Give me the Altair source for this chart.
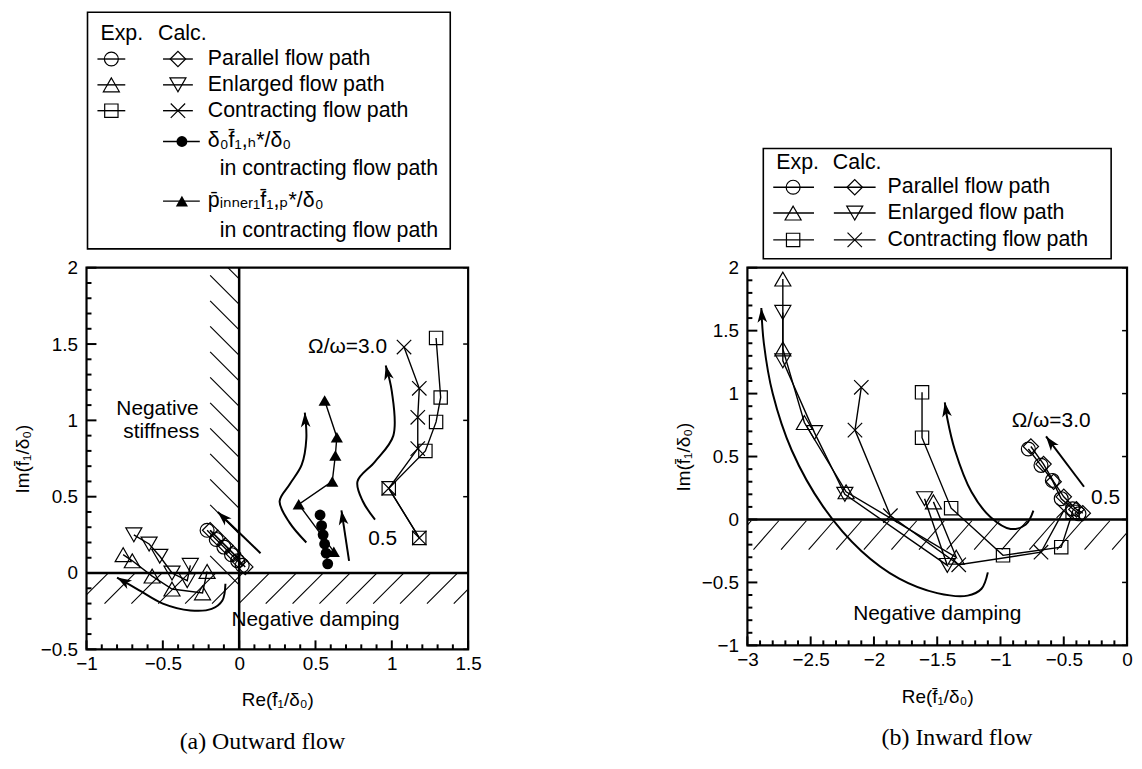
import math
import altair as alt
import pandas as pd

FONT = "Liberation Sans, DejaVu Sans"
SERIF = "Liberation Serif, DejaVu Serif"

ratio = [0.5, 1.0, 1.5, 2.0, 2.5, 3.0]

# ---------------- (a) Outward flow ----------------
a_par_exp_x = [0.02, -0.01, -0.05, -0.10, -0.15, -0.21]
a_par_exp_y = [0.05, 0.08, 0.12, 0.17, 0.22, 0.28]
a_par_calc_x = [0.04, 0.00, -0.04, -0.09, -0.14, -0.19]
a_par_calc_y = [0.04, 0.08, 0.13, 0.18, 0.23, 0.28]
a_enl_exp_x = [-0.21, -0.24, -0.44, -0.57, -0.70, -0.76]
a_enl_exp_y = [0.01, -0.13, -0.105, -0.02, 0.08, 0.12]
a_enl_calc_x = [-0.32, -0.34, -0.44, -0.52, -0.59, -0.69]
a_enl_calc_y = [0.05, -0.05, 0.00, 0.11, 0.19, 0.25]
a_con_exp_x = [1.18, 0.98, 1.22, 1.29, 1.32, 1.29]
a_con_exp_y = [0.23, 0.555, 0.80, 0.99, 1.15, 1.54]
a_con_calc_x = [1.18, 0.98, 1.17, 1.17, 1.18, 1.08]
a_con_calc_y = [0.23, 0.555, 0.815, 1.02, 1.21, 1.48]
a_h_x = [0.58, 0.57, 0.56, 0.55, 0.54, 0.53]
a_h_y = [0.06, 0.13, 0.19, 0.25, 0.31, 0.38]
a_p_x = [0.62, 0.39, 0.61, 0.63, 0.64, 0.56]
a_p_y = [0.14, 0.45, 0.60, 0.77, 0.89, 1.13]

# trend arrows (a), last point is the arrow tip
a_arrows = [
    [(-0.09, -0.07), (-0.11, -0.18), (-0.18, -0.235), (-0.32, -0.245), (-0.50, -0.20), (-0.66, -0.11), (-0.80, -0.03)],
    [(0.14, 0.13), (-0.14, 0.40)],
    [(0.44, 0.20), (0.33, 0.33), (0.265, 0.47), (0.33, 0.58), (0.41, 0.71), (0.44, 0.88), (0.43, 1.05)],
    [(0.72, 0.08), (0.67, 0.41)],
    [(0.89, 0.35), (0.81, 0.47), (0.775, 0.60), (0.89, 0.73), (1.01, 0.90), (1.00, 1.19), (0.96, 1.36)],
]

# ---------------- (b) Inward flow ----------------
b_par_exp_x = [-0.38, -0.43, -0.52, -0.59, -0.68, -0.78]
b_par_exp_y = [0.045, 0.085, 0.165, 0.31, 0.43, 0.56]
b_par_calc_x = [-0.35, -0.40, -0.50, -0.58, -0.66, -0.76]
b_par_calc_y = [0.05, 0.08, 0.18, 0.30, 0.44, 0.58]
b_enl_exp_x = [-1.53, -1.35, -2.22, -2.55, -2.72, -2.72]
b_enl_exp_y = [0.14, -0.30, 0.22, 0.77, 1.355, 1.91]
b_enl_calc_x = [-1.60, -1.42, -2.23, -2.47, -2.72, -2.72]
b_enl_calc_y = [0.165, -0.365, 0.20, 0.69, 1.26, 1.645]
b_con_exp_x = [-0.43, -0.52, -0.98, -1.39, -1.62, -1.62]
b_con_exp_y = [0.06, -0.22, -0.285, 0.09, 0.65, 1.01]
b_con_calc_x = [-0.50, -0.68, -1.33, -1.87, -2.15, -2.10]
b_con_calc_y = [0.07, -0.26, -0.36, 0.03, 0.71, 1.05]

b_arrows = [
    [(-1.10, -0.42), (-1.15, -0.55), (-1.26, -0.605), (-1.50, -0.585), (-1.80, -0.47), (-2.10, -0.25),
     (-2.40, 0.10), (-2.65, 0.55), (-2.80, 1.00), (-2.87, 1.40), (-2.89, 1.68)],
    [(-0.74, 0.07), (-0.80, -0.04), (-0.92, -0.075), (-1.08, 0.02), (-1.23, 0.22), (-1.36, 0.55),
     (-1.42, 0.80), (-1.44, 0.93)],
    [(-0.34, 0.26), (-0.64, 0.66)],
]

XPATH = "M-1,-1L1,1M-1,1L1,-1"
ARROW = "M0,0L0.5,1.5L0,1.1L-0.5,1.5Z"
SHAPES = {
    "par_exp": ("circle", 196), "par_calc": ("diamond", 240),
    "enl_exp": ("triangle-up", 260), "enl_calc": ("triangle-down", 260),
    "con_exp": ("square", 180), "con_calc": (XPATH, 210),
}
FILLED = {"h": ("circle", 120), "p": ("triangle-up", 150)}

SUB = "\u2081"
TITLE_RE = "Re(f\u0304" + SUB + "/\u03b4\u2080)"
TITLE_IM = "Im(f\u0304" + SUB + "/\u03b4\u2080)"

LEG_FS = 21.5
ANN_FS = 21


def build_panel(series, arrows, xdom, ydom, W, H, xmaj, ymaj, hatches, texts, legend, caption, cap_dx, zero_x):
    sx = W / (xdom[1] - xdom[0])
    sy = H / (ydom[1] - ydom[0])

    def px2d(lx, ly):
        return xdom[0] + lx / sx, ydom[1] - ly / sy

    xaxis = alt.Axis(values=xmaj, format="~g", ticks=False, domain=False, grid=False, labelFlush=False,
                     labelOverlap=False, labelFont=FONT, labelFontSize=19, labelPadding=5, labelColor="black",
                     title=TITLE_RE, titleFont=FONT, titleFontSize=19, titleFontWeight="normal",
                     titleColor="black", titlePadding=18)
    yaxis = alt.Axis(values=ymaj, format="~g", ticks=False, domain=False, grid=False, labelFlush=False,
                     labelOverlap=False, labelFont=FONT, labelFontSize=19, labelPadding=9, labelColor="black",
                     title=TITLE_IM, titleFont=FONT, titleFontSize=19, titleFontWeight="normal",
                     titleColor="black", titlePadding=8)
    xs = alt.Scale(domain=xdom, nice=False, zero=False)
    ys = alt.Scale(domain=ydom, nice=False, zero=False)

    def X(f):
        return alt.X(f, type="quantitative", scale=xs, axis=xaxis)

    def Y(f):
        return alt.Y(f, type="quantitative", scale=ys, axis=yaxis)

    layers = []

    # hatching
    hdf = pd.DataFrame(hatches, columns=["x", "y", "x2", "y2"])
    layers.append(alt.Chart(hdf).mark_rule(clip=True, color="black", strokeWidth=1.1).encode(
        x=X("x"), y=Y("y"), x2="x2", y2="y2"))

    # zero lines
    layers.append(alt.Chart(pd.DataFrame({"v": [0]})).mark_rule(color="black", strokeWidth=2.5).encode(y=Y("v")))
    if zero_x:
        layers.append(alt.Chart(pd.DataFrame({"v": [0]})).mark_rule(color="black", strokeWidth=2.5).encode(x=X("v")))

    # ticks (inward)
    xminor = [round(v * 0.1, 1) for v in range(int(round(xdom[0] * 10)), int(round(xdom[1] * 10)) + 1)]
    yminor = [round(v * 0.1, 1) for v in range(int(round(ydom[0] * 10)), int(round(ydom[1] * 10)) + 1)]
    xminor = [v for v in xminor if v not in xmaj]
    yminor = [v for v in yminor if v not in ymaj]
    layers.append(alt.Chart(pd.DataFrame({"v": xmaj})).mark_rule(color="black", strokeWidth=2).encode(
        x=X("v"), y=alt.value(H), y2=alt.value(H - 9)))
    layers.append(alt.Chart(pd.DataFrame({"v": xminor})).mark_rule(color="black", strokeWidth=2).encode(
        x=X("v"), y=alt.value(H), y2=alt.value(H - 5)))
    layers.append(alt.Chart(pd.DataFrame({"v": ymaj})).mark_rule(color="black", strokeWidth=2).encode(
        y=Y("v"), x=alt.value(0), x2=alt.value(10)))
    layers.append(alt.Chart(pd.DataFrame({"v": yminor})).mark_rule(color="black", strokeWidth=2).encode(
        y=Y("v"), x=alt.value(0), x2=alt.value(5)))
    layers.append(alt.Chart(pd.DataFrame({"v": ymaj})).mark_rule(color="black", strokeWidth=1.5).encode(
        y=Y("v"), x=alt.value(W), x2=alt.value(W - 5)))

    # series lines
    rows = []
    for key, (xs_, ys_) in series.items():
        for i, (a, b) in enumerate(zip(xs_, ys_)):
            rows.append({"x": a, "y": b, "s": key, "i": i, "r": ratio[i]})
    sdf = pd.DataFrame(rows)
    layers.append(alt.Chart(sdf).mark_line(color="black", strokeWidth=1.4).encode(
        x=X("x"), y=Y("y"), detail="s:N", order="i:Q"))

    # arrows (curves + heads)
    crow, hrow = [], []
    for c, pts in enumerate(arrows):
        for i, (a, b) in enumerate(pts):
            crow.append({"x": a, "y": b, "c": c, "i": i})
        (xa, ya), (xb, yb) = pts[-2], pts[-1]
        ang = math.degrees(math.atan2((xb - xa) * sx, (yb - ya) * sy)) % 360
        hrow.append({"x": xb, "y": yb, "ang": ang})
    layers.append(alt.Chart(pd.DataFrame(crow)).mark_line(
        color="black", strokeWidth=2, interpolate="catmull-rom").encode(
        x=X("x"), y=Y("y"), detail="c:N", order="i:Q"))
    layers.append(alt.Chart(pd.DataFrame(hrow)).mark_point(
        shape=ARROW, filled=True, color="black", size=380, opacity=1, strokeWidth=0).encode(
        x=X("x"), y=Y("y"), angle=alt.Angle("ang:Q", scale=None)))

    # legend box and entries (positions in px relative to plot origin)
    bx0, bx1, by0, by1 = legend["box"]
    (x0, y0), (x1, y1) = px2d(bx0, by0), px2d(bx1, by1)
    layers.append(alt.Chart(pd.DataFrame([{"x": x0, "x2": x1, "y": y0, "y2": y1}])).mark_rect(
        fill="white", stroke="black", strokeWidth=1.6).encode(x=X("x"), x2="x2", y=Y("y"), y2="y2"))
    seg = []
    for (la, lb, ly) in legend["lines"]:
        (p0, q0), (p1, q1) = px2d(la, ly), px2d(lb, ly)
        seg.append({"x": p0, "x2": p1, "y": q0, "y2": q1})
    layers.append(alt.Chart(pd.DataFrame(seg)).mark_rule(color="black", strokeWidth=1.4).encode(
        x=X("x"), x2="x2", y=Y("y"), y2="y2"))

    # markers (data + legend)
    mrow = [dict(r) for r in rows]
    for (key, lx, ly) in legend["markers"]:
        p, q = px2d(lx, ly)
        mrow.append({"x": p, "y": q, "s": key, "i": -1, "r": None})
    mdf = pd.DataFrame(mrow)
    for key, (shape, size) in SHAPES.items():
        sub = mdf[mdf["s"] == key]
        if len(sub):
            layers.append(alt.Chart(sub).mark_point(
                shape=shape, size=size, filled=False, color="black", strokeWidth=1.2, opacity=1).encode(
                x=X("x"), y=Y("y")))
    for key, (shape, size) in FILLED.items():
        sub = mdf[mdf["s"] == key]
        if len(sub):
            layers.append(alt.Chart(sub).mark_point(
                shape=shape, size=size, filled=True, color="black", opacity=1).encode(
                x=X("x"), y=Y("y")))

    # legend texts
    trow = []
    for (t, lx, ly) in legend["texts"]:
        p, q = px2d(lx, ly)
        trow.append({"x": p, "y": q, "t": t})
    layers.append(alt.Chart(pd.DataFrame(trow)).mark_text(
        align="left", baseline="middle", font=FONT, fontSize=LEG_FS, color="black").encode(
        x=X("x"), y=Y("y"), text="t:N"))

    # annotations in data units
    layers.append(alt.Chart(pd.DataFrame(texts, columns=["t", "x", "y"])).mark_text(
        align="center", baseline="middle", font=FONT, fontSize=ANN_FS, color="black").encode(
        x=X("x"), y=Y("y"), text="t:N"))

    return alt.layer(*layers).properties(
        width=W, height=H,
        title=alt.TitleParams(caption, orient="bottom", anchor="middle", frame="group", font=SERIF,
                              fontSize=24, fontWeight="normal", color="black", offset=20, dx=cap_dx))


# ---------- hatching geometry ----------
a_hatch = []
k = 0
while True:
    yt = 1.95 + 0.167 - 0.167 * k
    if yt < 0.1:
        break
    a_hatch.append((-0.19, yt, 0.0, yt - 0.19))
    k += 1
for k in range(16):
    xr = 0.198 + 0.176 * (k - 7)
    a_hatch.append((xr - 0.2, -0.2, xr, 0.0))

b_hatch = []
for k in range(16):
    xl = -3.17 + 0.218 * k
    b_hatch.append((xl, -0.24, xl + 0.2, -0.01))

a_series = {
    "par_exp": (a_par_exp_x, a_par_exp_y), "par_calc": (a_par_calc_x, a_par_calc_y),
    "enl_exp": (a_enl_exp_x, a_enl_exp_y), "enl_calc": (a_enl_calc_x, a_enl_calc_y),
    "con_exp": (a_con_exp_x, a_con_exp_y), "con_calc": (a_con_calc_x, a_con_calc_y),
    "h": (a_h_x, a_h_y), "p": (a_p_x, a_p_y),
}
b_series = {
    "par_exp": (b_par_exp_x, b_par_exp_y), "par_calc": (b_par_calc_x, b_par_calc_y),
    "enl_exp": (b_enl_exp_x, b_enl_exp_y), "enl_calc": (b_enl_calc_x, b_enl_calc_y),
    "con_exp": (b_con_exp_x, b_con_exp_y), "con_calc": (b_con_calc_x, b_con_calc_y),
}

a_texts = [
    ("Negative", -0.535, 1.076), ("stiffness", -0.51, 0.926),
    ("Negative damping", 0.50, -0.31),
    ("\u03a9/\u03c9=3.0", 0.71, 1.48), ("0.5", 0.94, 0.22),
]
b_texts = [
    ("\u03a9/\u03c9=3.0", -0.60, 0.78), ("0.5", -0.17, 0.17),
    ("Negative damping", -1.50, -0.75),
]

leg_names = ["Parallel flow path", "Enlarged flow path", "Contracting flow path"]
row4 = "\u03b4\u2080f\u0304\u2081,\u2095*/\u03b4\u2080"
row5 = "p\u0304\u1d62\u2099\u2099\u2091\u1d63\u2081f\u0304\u2081,\u209a*/\u03b4\u2080"

a_leg = {
    "box": (1, 366, -257, -19),
    "lines": [(11, 39, -210), (77, 107, -210), (11, 39, -184), (77, 107, -184), (11, 39, -158), (77, 107, -158),
              (77, 114, -127), (77, 114, -67)],
    "markers": [("par_exp", 25, -210), ("par_calc", 92, -210), ("enl_exp", 25, -184), ("enl_calc", 92, -184),
                ("con_exp", 25, -158), ("con_calc", 92, -158), ("h", 96, -127), ("p", 96, -67)],
    "texts": [("Exp.", 14, -235), ("Calc.", 72, -235),
              (leg_names[0], 122, -210), (leg_names[1], 122, -184), (leg_names[2], 122, -158),
              (row4, 122, -127), ("in contracting flow path", 134, -99),
              (row5, 122, -67), ("in contracting flow path", 134, -37)],
}
b_leg = {
    "box": (16, 366, -120, -9),
    "lines": [(26, 67, -81), (87, 129, -81), (26, 67, -55), (87, 129, -55), (26, 67, -28), (87, 129, -28)],
    "markers": [("par_exp", 46, -81), ("par_calc", 108, -81), ("enl_exp", 46, -55), ("enl_calc", 108, -55),
                ("con_exp", 46, -28), ("con_calc", 108, -28)],
    "texts": [("Exp.", 29, -105), ("Calc.", 86, -105),
              (leg_names[0], 141, -81), (leg_names[1], 141, -55), (leg_names[2], 141, -28)],
}

left = build_panel(a_series, a_arrows, [-1, 1.5], [-0.5, 2], 384, 384,
                   [-1, -0.5, 0, 0.5, 1, 1.5], [-0.5, 0, 0.5, 1, 1.5, 2],
                   a_hatch, a_texts, a_leg, "(a)  Outward flow", -15, True)
right = build_panel(b_series, b_arrows, [-3, 0], [-1, 2], 382, 380,
                    [-3, -2.5, -2, -1.5, -1, -0.5, 0], [-1, -0.5, 0, 0.5, 1, 1.5, 2],
                    b_hatch, b_texts, b_leg, "(b) Inward flow", 20, False)

chart = alt.hconcat(left, right, spacing=281, bounds="flush").properties(
    padding={"left": 4, "top": 0, "right": 0, "bottom": 0}, background="white"
).configure_view(stroke="black", strokeWidth=2.2)

chart.save("out.html", embed_options={"renderer": "svg", "actions": False})
